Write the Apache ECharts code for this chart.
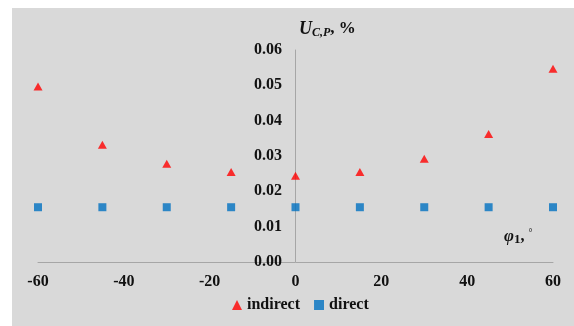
<!DOCTYPE html>
<html><head><meta charset="utf-8">
<script src="https://cdn.jsdelivr.net/npm/echarts@6/dist/echarts.min.js"></script>
<style>html,body{margin:0;padding:0;background:#fff}#c{width:574px;height:326px}</style>
</head><body><div id="c"></div>
<script>
const angles = [-60, -45, -30, -15, 0, 15, 30, 45, 60];
const indirect = [0.0497, 0.0332, 0.0278, 0.0255, 0.0244, 0.0255, 0.0292, 0.0362, 0.0547];
const direct = [0.0155, 0.0155, 0.0155, 0.0155, 0.0155, 0.0155, 0.0155, 0.0155, 0.0155];
const seriesNames = ['indirect', 'direct'];

const chart = echarts.init(document.getElementById('c'));
const font = '"Liberation Serif", "Times New Roman", serif';
chart.setOption({
  backgroundColor: '#fff',
  animation: false,
  graphic: [
    {type: 'rect', z: -10, shape: {x: 12, y: 8, width: 562, height: 318}, style: {fill: '#d9d9d9'}},
    {type: 'text', left: 299, top: 20, style: {
      text: '{u|U}{s|C,P}{n|, %}', font: 'bold 16px ' + font, fill: '#111',
      rich: {
        u: {fontFamily: font, fontWeight: 'bold', fontStyle: 'italic', fontSize: 18, fill: '#111'},
        s: {fontFamily: font, fontWeight: 'bold', fontStyle: 'italic', fontSize: 12, fill: '#111', padding: [8, 0, 0, 0]},
        n: {fontFamily: font, fontWeight: 'bold', fontSize: 17, fill: '#111'}
      }}},
    {type: 'text', left: 504, top: 228, style: {
      text: '{p|φ}{s|1}{n|, }{d|°}', font: 'bold 16px ' + font, fill: '#111',
      rich: {
        p: {fontFamily: font, fontWeight: 'bold', fontStyle: 'italic', fontSize: 17, fill: '#111'},
        s: {fontFamily: font, fontWeight: 'bold', fontSize: 13, fill: '#111', padding: [6, 0, 0, 0]},
        n: {fontFamily: font, fontWeight: 'bold', fontSize: 16, fill: '#111'},
        d: {fontFamily: font, fontSize: 10, fill: '#111', padding: [0, 0, 8, 0]}
      }}}
  ],
  grid: {left: 38, right: 21, top: 50, bottom: 64},
  legend: {
    bottom: 8, left: 227, itemWidth: 10, itemHeight: 10, itemGap: 14,
    textStyle: {fontFamily: font, fontWeight: 'bold', fontSize: 16, color: '#111'},
    data: [{name: seriesNames[0], icon: 'triangle'}, {name: seriesNames[1], icon: 'rect'}]
  },
  xAxis: {
    type: 'value', min: -60, max: 60, interval: 20,
    axisLine: {show: true, lineStyle: {color: '#a6a6a6', width: 1}},
    axisTick: {show: false}, splitLine: {show: false},
    axisLabel: {margin: 12, fontFamily: font, fontWeight: 'bold', fontSize: 16, color: '#111'}
  },
  yAxis: {
    type: 'value', min: 0, max: 0.06, interval: 0.01,
    axisLine: {show: true, onZero: true, lineStyle: {color: '#a6a6a6', width: 1}},
    axisTick: {show: false}, splitLine: {show: false},
    axisLabel: {margin: -244, align: 'right', fontFamily: font, fontWeight: 'bold', fontSize: 16, color: '#111',
      formatter: v => v.toFixed(2)}
  },
  series: [
    {name: seriesNames[0], type: 'scatter', symbol: 'triangle', symbolSize: [9, 8],
     itemStyle: {color: '#ff0000'}, data: angles.map((a, i) => [a, indirect[i]])},
    {name: seriesNames[1], type: 'scatter', symbol: 'rect', symbolSize: 8,
     itemStyle: {color: '#0070c0'}, data: angles.map((a, i) => [a, direct[i]])}
  ]
});
</script></body></html>
